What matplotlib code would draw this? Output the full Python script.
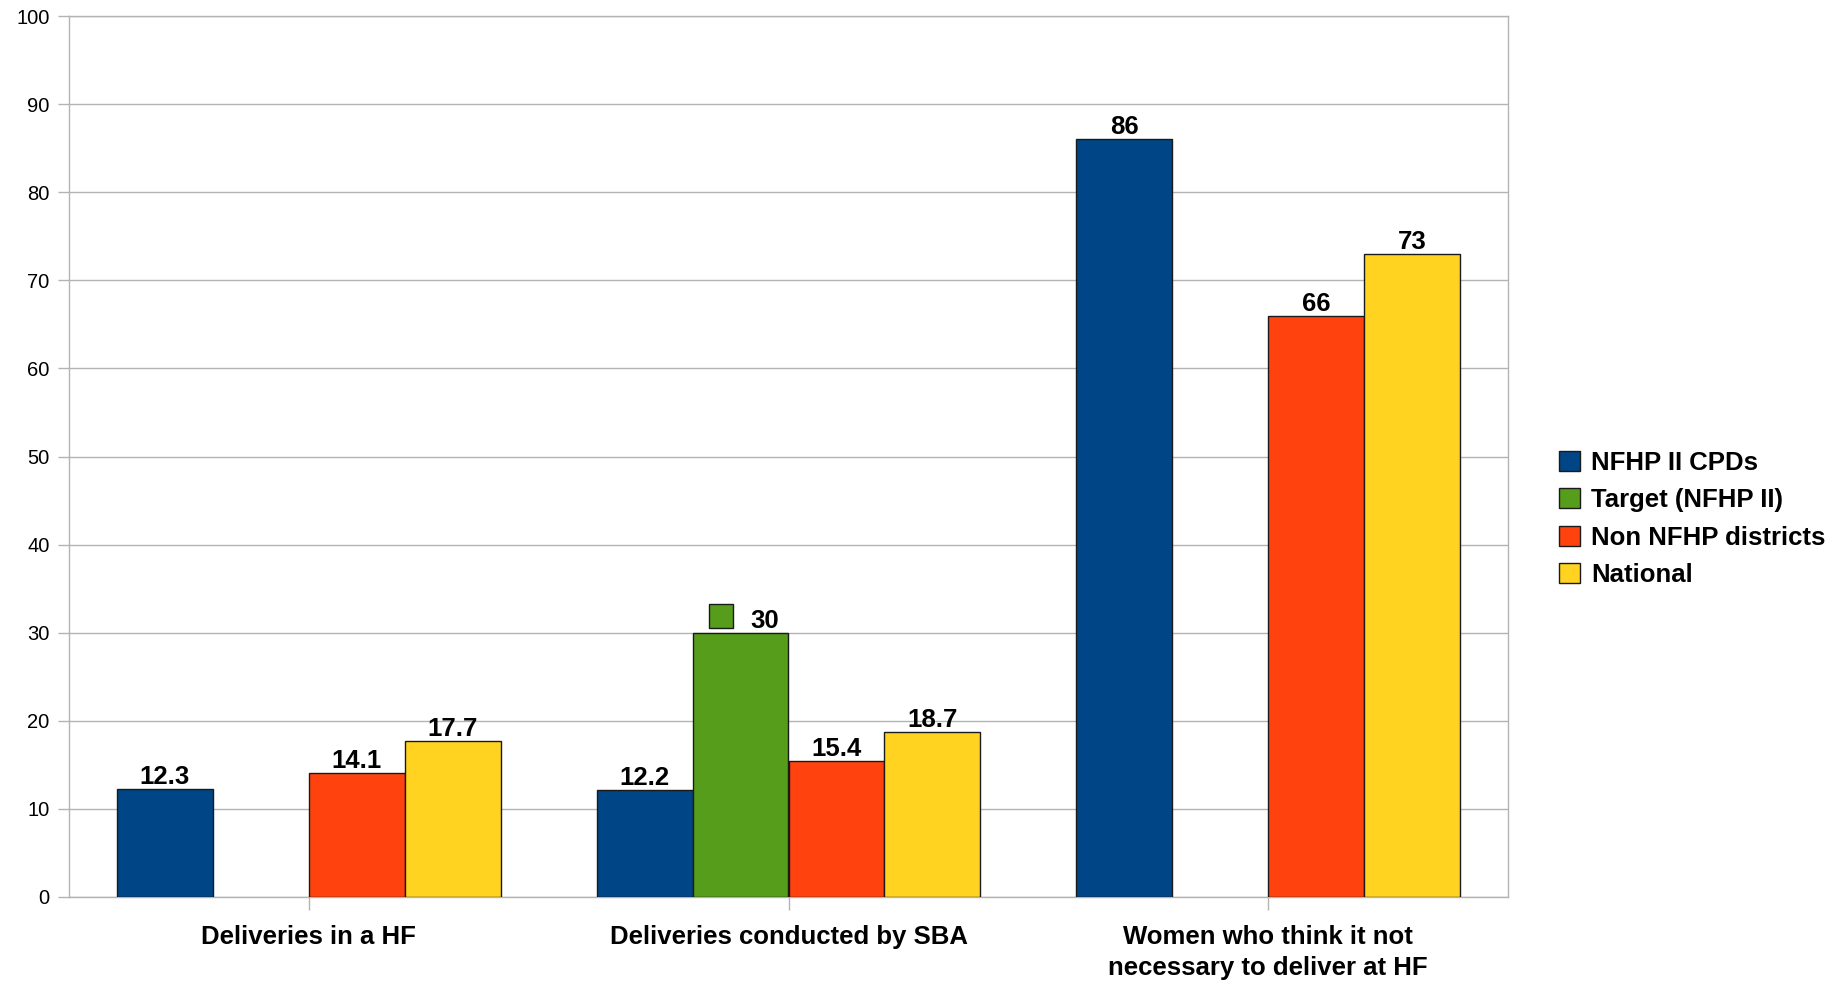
import numpy as np
import matplotlib
matplotlib.use("Agg")
import matplotlib.pyplot as plt
from matplotlib.patches import Rectangle

plt.rcParams['font.family'] = ['Liberation Sans', 'DejaVu Sans']

categories = ["Deliveries in a HF", "Deliveries conducted by SBA",
              "Women who think it not\nnecessary to deliver at HF"]
series_names = ["NFHP II CPDs", "Target (NFHP II)", "Non NFHP districts", "National"]
cpds = [12.3, 12.2, 86]
target = [np.nan, 30, np.nan]
non_nfhp = [14.1, 15.4, 66]
national = [17.7, 18.7, 73]
colors = ["#004586", "#579D1C", "#FF420E", "#FFD320"]
yticks = list(range(0, 101, 10))

data = [cpds, target, non_nfhp, national]

W, H = 1843, 983
fig = plt.figure(figsize=(W / 100, H / 100), dpi=100)
ax = fig.add_axes([69 / W, 1 - 897 / H, (1508 - 69) / W, (897 - 16) / H])

x = np.arange(len(categories))
w = 0.2
grid_c = "#b3b3b3"
for i, (vals, col) in enumerate(zip(data, colors)):
    xs = x + (i - 1.5) * w
    ax.bar(xs, vals, width=w, color=col, edgecolor="#1a1a1a", linewidth=1.0, zorder=3)
    for xi, v in zip(xs, vals):
        if np.isnan(v):
            continue
        lab = f"{v:g}"
        if i == 1:
            ax.annotate(lab, (xi, v), xytext=(17.5, 0), textcoords="offset points",
                        ha="center", va="bottom", fontsize=18.5, fontweight="bold", zorder=5)
            ax.plot([xi], [v], marker="s", markersize=17.5, markerfacecolor=col,
                    markeredgecolor="#1a1a1a", markeredgewidth=1.0, linestyle="none",
                    transform=ax.transData + matplotlib.transforms.ScaledTranslation(-19.5 / 100, 17 / 100, fig.dpi_scale_trans),
                    zorder=5, clip_on=False)
        else:
            ax.annotate(lab, (xi, v), xytext=(0, 0), textcoords="offset points",
                        ha="center", va="bottom", fontsize=18.5, fontweight="bold", zorder=5)

ax.set_xlim(-0.5, len(categories) - 0.5)
ax.set_ylim(0, 100)
ax.set_yticks(yticks)
ax.set_yticklabels([str(t) for t in yticks], fontsize=14.5)
ax.set_xticks(x)
ax.set_xticklabels(categories, fontsize=18.5, fontweight="bold", linespacing=1.4)
ax.yaxis.grid(True, color=grid_c, linewidth=1.0, zorder=0)
ax.set_axisbelow(True)
for s in ax.spines.values():
    s.set_color(grid_c)
    s.set_linewidth(1.0)
ax.tick_params(axis="y", length=8, width=1, color=grid_c, pad=6)
ax.tick_params(axis="x", length=9, width=1, color=grid_c, pad=11)

handles = [Rectangle((0, 0), 1, 1, facecolor=c, edgecolor="#1a1a1a", linewidth=1.0) for c in colors]
leg = ax.legend(handles, series_names, loc="center left",
                bbox_to_anchor=(1559 / W, 1 - 519 / H), bbox_transform=fig.transFigure,
                frameon=False, prop={"weight": "bold", "size": 18.5},
                handlelength=0.82, handleheight=0.82, handletextpad=0.42,
                labelspacing=0.52, borderpad=0, borderaxespad=0)

fig.savefig("out.png", dpi=100)
